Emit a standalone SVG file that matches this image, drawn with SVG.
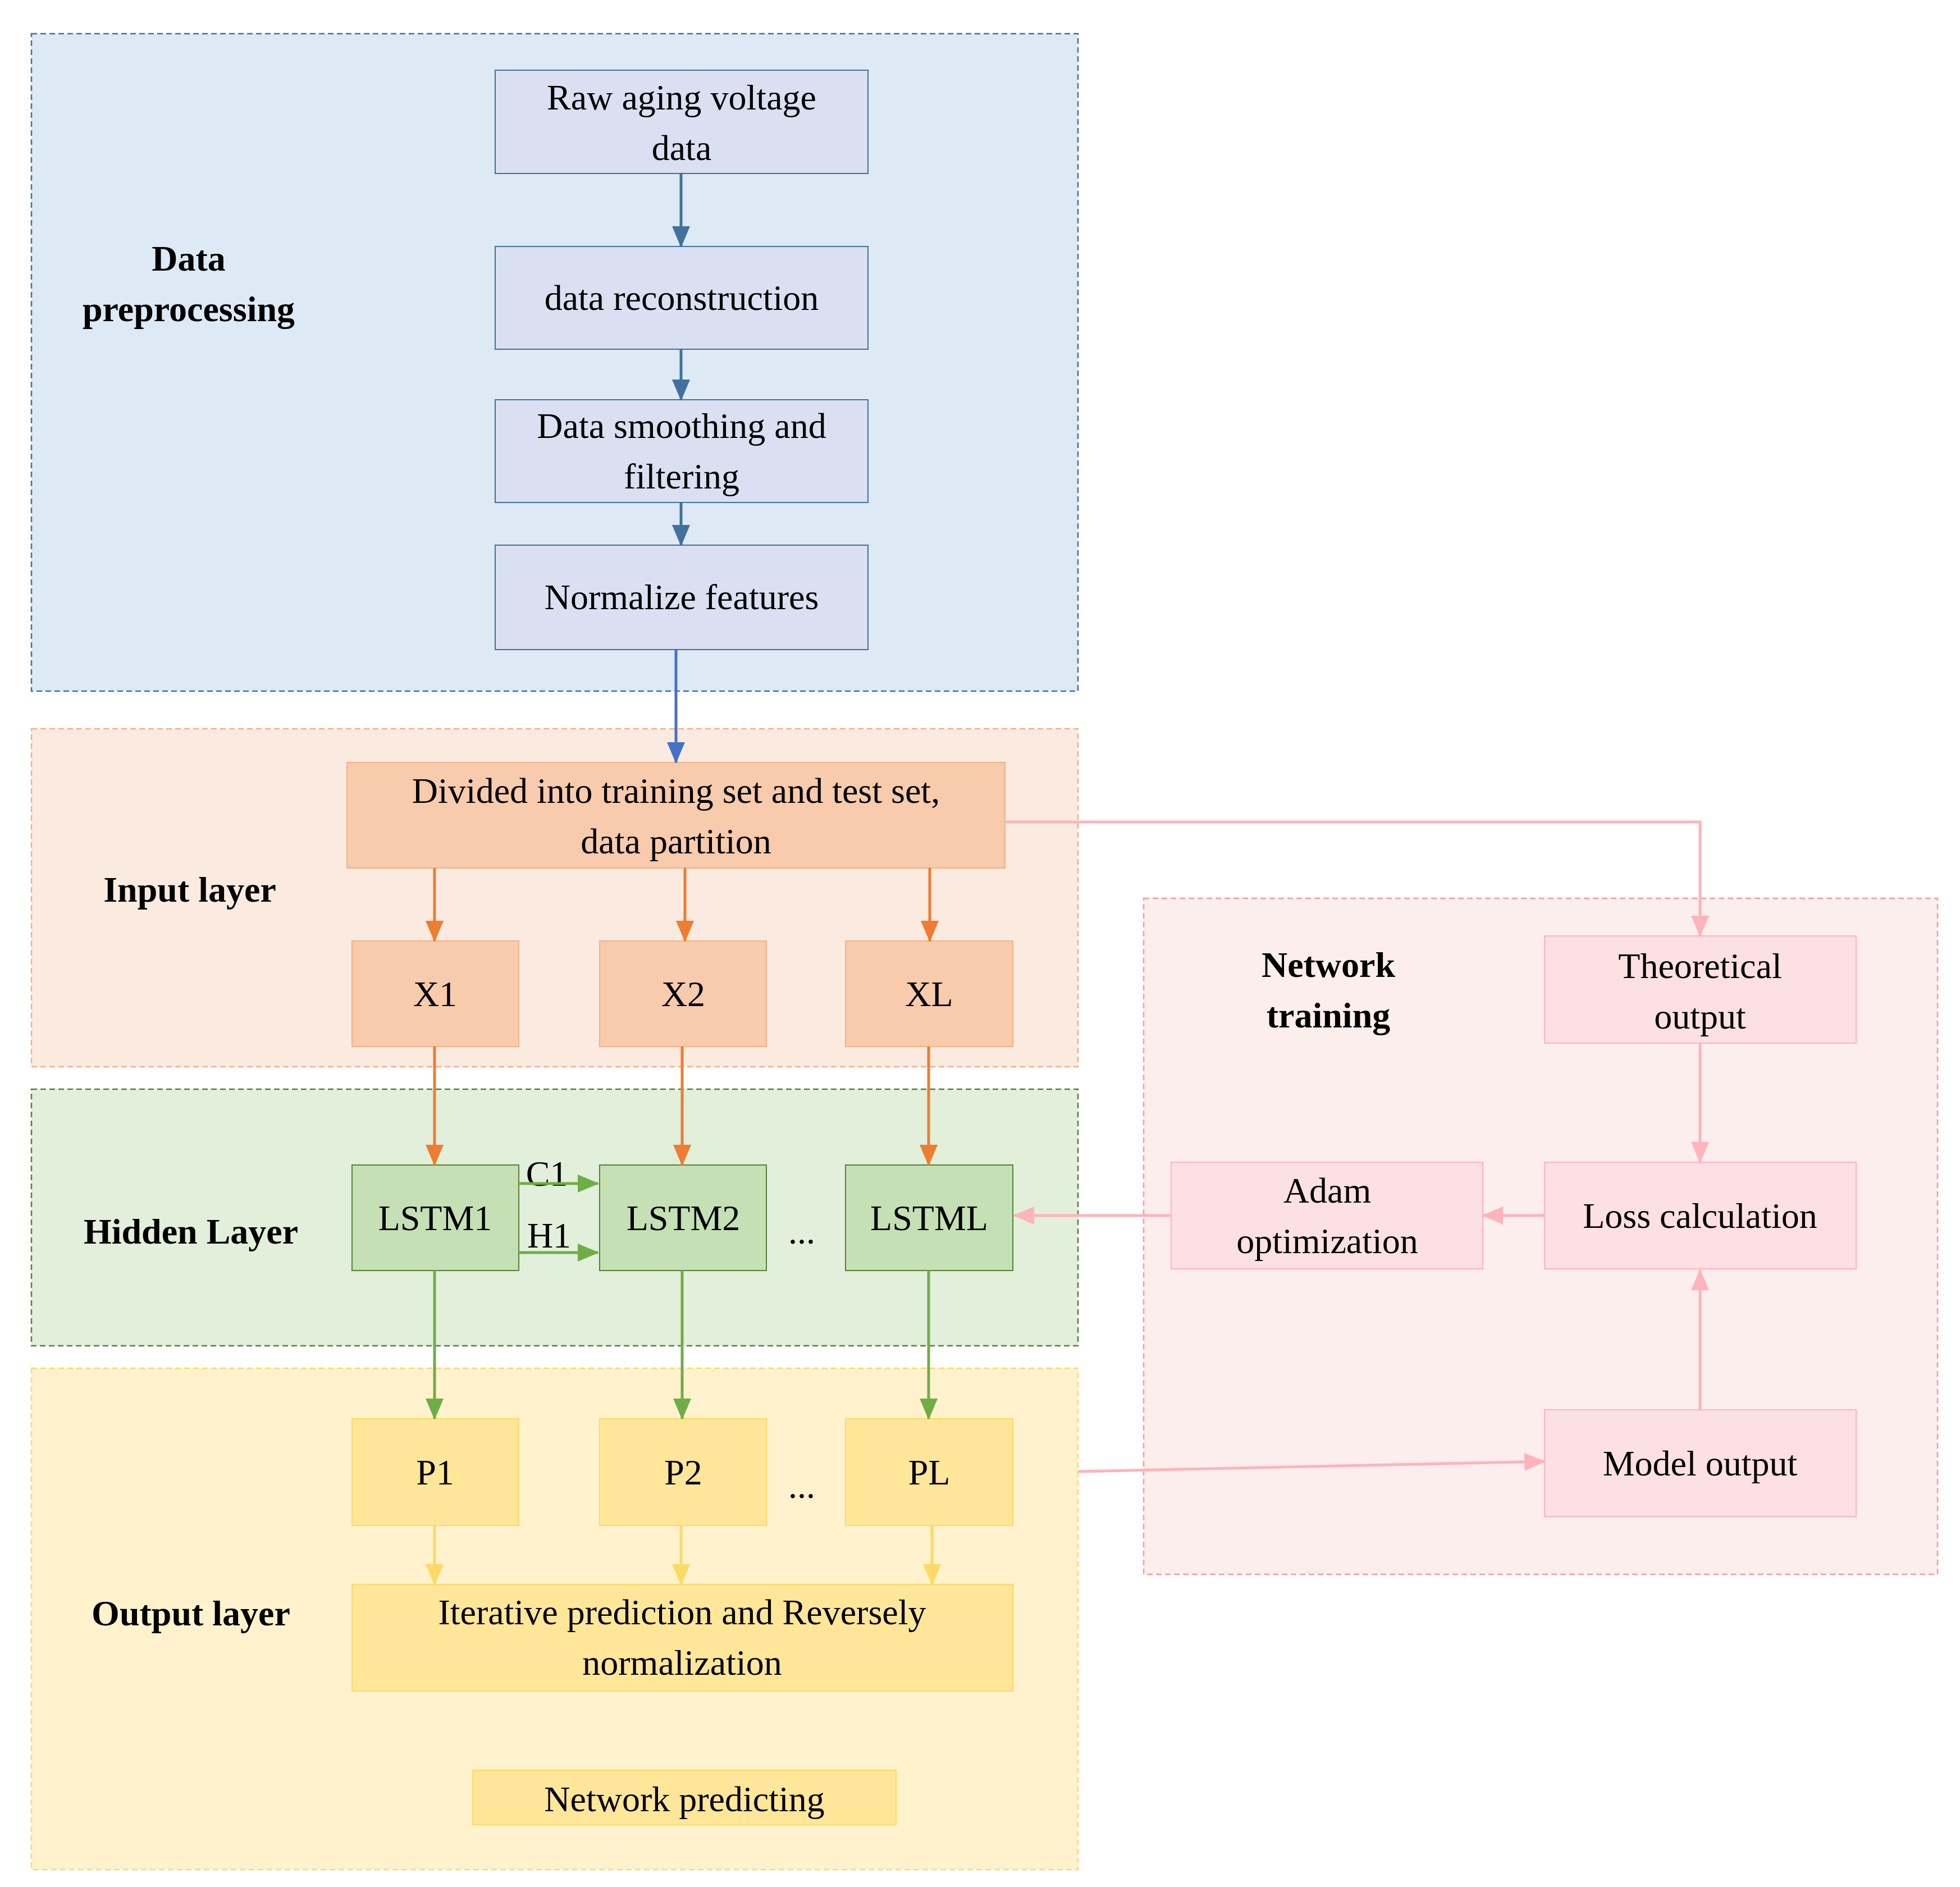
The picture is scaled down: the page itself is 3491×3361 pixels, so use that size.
<svg xmlns="http://www.w3.org/2000/svg" width="3491" height="3361" viewBox="0 0 3491 3361">
<style>
text{font-family:"Liberation Serif","Times New Roman",serif;font-size:64px;text-anchor:middle;fill:#000}
.b{font-weight:bold}
.reg{stroke-width:2.5;stroke-dasharray:10 6}
.c{fill:none;stroke-width:5}
</style>
<defs>
<marker id="mb" viewBox="0 0 10 10" refX="9" refY="5" markerWidth="8" markerHeight="8" markerUnits="userSpaceOnUse" orient="auto" style="overflow:visible"><path d="M0,0L10,5L0,10z" fill="#41719c" transform="scale(4) translate(-5,-5) translate(5,5)"/></marker>
<marker id="ab" markerWidth="40" markerHeight="40" refX="36" refY="20" orient="auto" markerUnits="userSpaceOnUse"><path d="M0,4L38,20L0,36z" fill="#41719c"/></marker>
<marker id="ab2" markerWidth="40" markerHeight="40" refX="36" refY="20" orient="auto" markerUnits="userSpaceOnUse"><path d="M0,4L38,20L0,36z" fill="#4472c4"/></marker>
<marker id="ao" markerWidth="40" markerHeight="40" refX="36" refY="20" orient="auto" markerUnits="userSpaceOnUse"><path d="M0,4L38,20L0,36z" fill="#ed7d31"/></marker>
<marker id="ag" markerWidth="40" markerHeight="40" refX="36" refY="20" orient="auto" markerUnits="userSpaceOnUse"><path d="M0,4L38,20L0,36z" fill="#70ad47"/></marker>
<marker id="ay" markerWidth="40" markerHeight="40" refX="36" refY="20" orient="auto" markerUnits="userSpaceOnUse"><path d="M0,4L38,20L0,36z" fill="#ffd966"/></marker>
<marker id="ap" markerWidth="40" markerHeight="40" refX="36" refY="20" orient="auto" markerUnits="userSpaceOnUse"><path d="M0,4L38,20L0,36z" fill="#ffb3ba"/></marker>
</defs>
<rect width="3491" height="3361" fill="#fff"/>
<g id="regions">
<rect class="reg" x="56" y="60" width="1864" height="1171" fill="#dde9f5" stroke="#41719c"/>
<rect class="reg" x="56" y="1298" width="1864" height="602" fill="#fbeadf" stroke="#f4b183"/>
<rect class="reg" x="56" y="1940" width="1864" height="457" fill="#e2efda" stroke="#548235"/>
<rect class="reg" x="56" y="2437" width="1864" height="893" fill="#fff2cc" stroke="#ffd966"/>
<rect class="reg" x="2037" y="1600" width="1414" height="1204" fill="#fdeeee" stroke="#ff9999"/>
<text class="b" x="336" y="482">Data</text><text class="b" x="336" y="572">preprocessing</text>
<text class="b" x="338" y="1606">Input layer</text>
<text class="b" x="340" y="2215">Hidden Layer</text>
<text class="b" x="340" y="2895">Output layer</text>
<text class="b" x="2366" y="1740">Network</text><text class="b" x="2366" y="1830">training</text>
</g>
<g id="n-raw"><rect x="882" y="125" width="664" height="184" fill="#dae0f2" stroke="#41719c" stroke-width="2"/><text x="1214" y="195">Raw aging voltage</text><text x="1214" y="285">data</text></g>
<g id="n-recon"><rect x="882" y="439" width="664" height="183" fill="#dae0f2" stroke="#41719c" stroke-width="2"/><text x="1214" y="552">data reconstruction</text></g>
<g id="n-smooth"><rect x="882" y="712" width="664" height="183" fill="#dae0f2" stroke="#41719c" stroke-width="2"/><text x="1214" y="780">Data smoothing and</text><text x="1214" y="870">filtering</text></g>
<g id="n-norm"><rect x="882" y="971" width="664" height="186" fill="#dae0f2" stroke="#41719c" stroke-width="2"/><text x="1214" y="1085">Normalize  features</text></g>
<g id="n-div"><rect x="618" y="1358" width="1172" height="188" fill="#f7cbac" stroke="#f4b183" stroke-width="2"/><text x="1204" y="1430">Divided into training set and test set,</text><text x="1204" y="1520">data partition</text></g>
<g id="n-x1"><rect x="627" y="1676" width="297" height="188" fill="#f7cbac" stroke="#f4b183" stroke-width="2"/><text x="775" y="1792">X1</text></g>
<g id="n-x2"><rect x="1068" y="1676" width="297" height="188" fill="#f7cbac" stroke="#f4b183" stroke-width="2"/><text x="1217" y="1792">X2</text></g>
<g id="n-xl"><rect x="1506" y="1676" width="298" height="188" fill="#f7cbac" stroke="#f4b183" stroke-width="2"/><text x="1655" y="1792">XL</text></g>
<g id="n-l1"><rect x="627" y="2075" width="297" height="188" fill="#c5e0b4" stroke="#548235" stroke-width="2"/><text x="775" y="2191">LSTM1</text></g>
<g id="n-l2"><rect x="1068" y="2075" width="297" height="188" fill="#c5e0b4" stroke="#548235" stroke-width="2"/><text x="1217" y="2191">LSTM2</text></g>
<g id="n-ll"><rect x="1506" y="2075" width="298" height="188" fill="#c5e0b4" stroke="#548235" stroke-width="2"/><text x="1655" y="2191">LSTML</text></g>
<g id="n-p1"><rect x="627" y="2527" width="297" height="190" fill="#ffe699" stroke="#ffd966" stroke-width="2"/><text x="775" y="2644">P1</text></g>
<g id="n-p2"><rect x="1068" y="2527" width="297" height="190" fill="#ffe699" stroke="#ffd966" stroke-width="2"/><text x="1217" y="2644">P2</text></g>
<g id="n-pl"><rect x="1506" y="2527" width="298" height="190" fill="#ffe699" stroke="#ffd966" stroke-width="2"/><text x="1655" y="2644">PL</text></g>
<g id="n-iter"><rect x="627" y="2822" width="1177" height="190" fill="#ffe699" stroke="#ffd966" stroke-width="2"/><text x="1215" y="2893">Iterative prediction and Reversely</text><text x="1215" y="2983">normalization</text></g>
<g id="n-np"><rect x="842" y="3153" width="754" height="97" fill="#ffe699" stroke="#ffd966" stroke-width="2"/><text x="1219" y="3226">Network  predicting</text></g>
<g id="n-theo"><rect x="2751" y="1667" width="555" height="191" fill="#fde0e3" stroke="#ffb3ba" stroke-width="2"/><text x="3028" y="1742">Theoretical</text><text x="3028" y="1832">output</text></g>
<g id="n-loss"><rect x="2751" y="2070" width="555" height="190" fill="#fde0e3" stroke="#ffb3ba" stroke-width="2"/><text x="3028" y="2187">Loss calculation</text></g>
<g id="n-adam"><rect x="2086" y="2070" width="555" height="190" fill="#fde0e3" stroke="#ffb3ba" stroke-width="2"/><text x="2364" y="2142">Adam</text><text x="2364" y="2232">optimization</text></g>
<g id="n-model"><rect x="2751" y="2511" width="555" height="190" fill="#fde0e3" stroke="#ffb3ba" stroke-width="2"/><text x="3028" y="2628">Model output</text></g>
<g id="labels">
<text x="974" y="2112">C1</text><text x="978" y="2222">H1</text>
<text x="1428" y="2215">...</text><text x="1428" y="2668">...</text>
</g>
<g id="connectors">
<path class="c" stroke="#41719c" marker-end="url(#ab)" d="M1213,309V439"/>
<path class="c" stroke="#41719c" marker-end="url(#ab)" d="M1213,622V712"/>
<path class="c" stroke="#41719c" marker-end="url(#ab)" d="M1213,895V971"/>
<path class="c" stroke="#4472c4" marker-end="url(#ab2)" d="M1204,1157V1358"/>
<path class="c" stroke="#ed7d31" marker-end="url(#ao)" d="M774,1546V1676"/>
<path class="c" stroke="#ed7d31" marker-end="url(#ao)" d="M1220,1546V1676"/>
<path class="c" stroke="#ed7d31" marker-end="url(#ao)" d="M1656,1546V1676"/>
<path class="c" stroke="#ed7d31" marker-end="url(#ao)" d="M774,1864V2075"/>
<path class="c" stroke="#ed7d31" marker-end="url(#ao)" d="M1215,1864V2075"/>
<path class="c" stroke="#ed7d31" marker-end="url(#ao)" d="M1654,1864V2075"/>
<path class="c" stroke="#70ad47" marker-end="url(#ag)" d="M774,2263V2527"/>
<path class="c" stroke="#70ad47" marker-end="url(#ag)" d="M1215,2263V2527"/>
<path class="c" stroke="#70ad47" marker-end="url(#ag)" d="M1654,2263V2527"/>
<path class="c" stroke="#70ad47" marker-end="url(#ag)" d="M924,2108H1065"/>
<path class="c" stroke="#70ad47" marker-end="url(#ag)" d="M924,2231H1065"/>
<path class="c" stroke="#ffd966" marker-end="url(#ay)" d="M774,2717V2822"/>
<path class="c" stroke="#ffd966" marker-end="url(#ay)" d="M1213,2717V2822"/>
<path class="c" stroke="#ffd966" marker-end="url(#ay)" d="M1660,2717V2822"/>
<path class="c" stroke="#ffb3ba" marker-end="url(#ap)" d="M1790,1464H3028V1667"/>
<path class="c" stroke="#ffb3ba" marker-end="url(#ap)" d="M3028,1858V2070"/>
<path class="c" stroke="#ffb3ba" marker-end="url(#ap)" d="M2751,2165H2641"/>
<path class="c" stroke="#ffb3ba" marker-end="url(#ap)" d="M2086,2165H1806"/>
<path class="c" stroke="#ffb3ba" marker-end="url(#ap)" d="M3028,2511V2262"/>
<path class="c" stroke="#ffb3ba" marker-end="url(#ap)" d="M1920,2621L2751,2603"/>
</g>
</svg>
